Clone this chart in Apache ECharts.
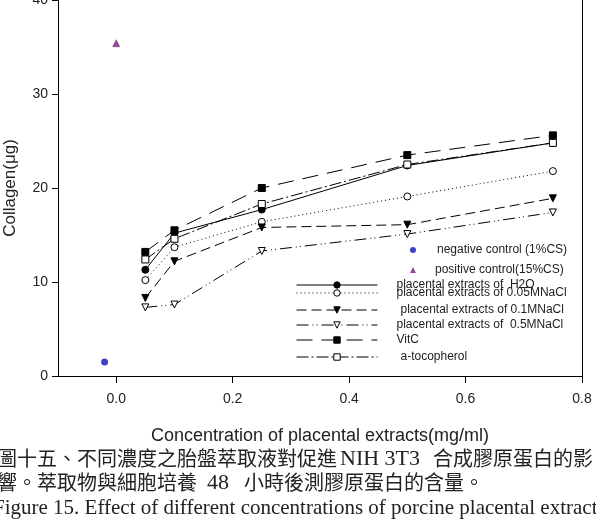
<!DOCTYPE html>
<html>
<head>
<meta charset="utf-8">
<script src="https://cdn.jsdelivr.net/npm/echarts@6/dist/echarts.min.js"></script>
<style>
  html, body { margin: 0; padding: 0; background: #fff; }
  #main { width: 596px; height: 526px; }
</style>
</head>
<body>
<div id="main"></div>
<script>
// 濃度 (mg/ml)
var conc = [0.05, 0.1, 0.25, 0.5, 0.75];
var xTicks = [0.0, 0.2, 0.4, 0.6, 0.8];
// 各組膠原蛋白含量
var h2o = [11.3, 15.2, 17.7, 22.4, 24.8];
var nacl005 = [10.2, 13.7, 16.4, 19.1, 21.8];
var nacl01 = [8.3, 12.2, 15.8, 16.1, 18.9];
var nacl05 = [7.3, 7.6, 13.3, 15.1, 17.4];
var vitC = [13.2, 15.5, 20.0, 23.5, 25.6];
var toco = [12.4, 14.6, 18.3, 22.5, 24.8];
var negCtrl = [[-0.02, 1.5]];
var posCtrl = [[0.0, 35.4]];

(function () {
  var myChart = echarts.init(document.getElementById('main'))

  function pair(ys) {
    return ys.map(function (y, i) { return [conc[i], y] })
  }

  function lineSeries(name, ys, symbol, filled, dash, rotate) {
    return {
      name: name,
      type: 'line',
      data: pair(ys),
      symbol: symbol,
      symbolRotate: rotate || 0,
      symbolSize: 7,
      lineStyle: { color: '#000', width: 1, type: dash },
      itemStyle: {
        color: filled ? '#000' : '#fff',
        borderColor: '#000',
        borderWidth: 1
      },
      z: 3
    }
  }

  var font = 'Liberation Sans, Arial, sans-serif'
  var cjk = '20px "Noto Sans CJK TC", sans-serif'
  var serif = '22px "Liberation Serif", "Times New Roman", serif'
  var names = [
    'negative control (1%CS)',
    'positive control(15%CS)',
    'placental extracts of  H2O',
    'placental extracts of 0.05MNaCl',
    'placental extracts of 0.1MNaCl',
    'placental extracts of  0.5MNaCl',
    'VitC',
    'a-tocopherol'
  ]
  // 圖例位置 (每一行一個 legend)
  var rows = [
    { left: 410, top: 244, w: 6, h: 6, pad: 16 },
    { left: 410, top: 264, w: 6, h: 6, pad: 14 },
    { left: 296, top: 279, w: 81, h: 8, pad: 14 },
    { left: 296, top: 287, w: 81, h: 8, pad: 14 },
    { left: 296, top: 304, w: 81, h: 8, pad: 18 },
    { left: 296, top: 319, w: 81, h: 8, pad: 14 },
    { left: 296, top: 334, w: 81, h: 8, pad: 14 },
    { left: 296, top: 351, w: 81, h: 8, pad: 18 }
  ]
  var legends = rows.map(function (r, i) {
    return {
      data: [names[i]],
      left: r.left,
      top: r.top,
      itemWidth: r.w,
      itemHeight: r.h,
      padding: 0,
      selectedMode: false,
      lineStyle: { width: 1 },
      itemStyle: { borderWidth: i < 2 ? 0 : 1 },
      textStyle: {
        color: '#222',
        fontSize: 12,
        fontFamily: font,
        padding: [0, 0, 0, r.pad]
      }
    }
  })

  function caption(text, x, y, f) {
    return {
      type: 'text',
      x: x,
      y: y,
      style: { text: text, font: f, fill: '#222', verticalAlign: 'middle' }
    }
  }

  var option = {
    animation: false,
    grid: {
      left: 58,
      right: 14,
      top: 0,
      bottom: 150,
      outerBoundsMode: 'none'
    },
    legend: legends,
    xAxis: {
      type: 'value',
      min: -0.1,
      max: 0.8,
      name: 'Concentration of placental extracts(mg/ml)',
      nameLocation: 'middle',
      nameGap: 51,
      nameTextStyle: { color: '#222', fontSize: 18, fontFamily: font },
      axisLine: { lineStyle: { color: '#000', width: 1 } },
      axisTick: {
        length: 7,
        customValues: xTicks,
        lineStyle: { color: '#000' }
      },
      axisLabel: {
        customValues: xTicks,
        margin: 16,
        color: '#222',
        fontSize: 14,
        fontFamily: font,
        formatter: function (v) { return v.toFixed(1) }
      },
      splitLine: { show: false }
    },
    yAxis: [{
      type: 'value',
      min: 0,
      max: 40,
      interval: 10,
      name: 'Collagen(\u03bcg)',
      nameLocation: 'middle',
      nameGap: 39,
      nameTextStyle: { color: '#222', fontSize: 17, fontFamily: font },
      axisLine: { show: true, onZero: false, lineStyle: { color: '#000', width: 1 } },
      axisTick: { show: true, length: 6, lineStyle: { color: '#000' } },
      axisLabel: { margin: 10, color: '#222', fontSize: 14, fontFamily: font },
      splitLine: { show: false }
    }, {
      // 右邊框
      type: 'value',
      position: 'right',
      min: 0,
      max: 40,
      axisLine: { show: true, onZero: false, lineStyle: { color: '#000', width: 1 } },
      axisTick: { show: false },
      axisLabel: { show: false },
      splitLine: { show: false }
    }],
    // 圖說文字
    graphic: [
      caption('圖十五、不同濃度之胎盤萃取液對促進', -3, 458, cjk),
      caption('NIH 3T3', 340, 459, serif),
      caption('合成膠原蛋白的影', 433, 458, cjk),
      caption('響。萃取物與細胞培養', -3, 482, cjk),
      caption('48', 207, 483, serif),
      caption('小時後測膠原蛋白的含量。', 244, 482, cjk),
      caption('Figure 15. Effect of different concentrations of porcine placental extracts', -7, 508,
        '21px "Liberation Serif", "Times New Roman", serif')
    ],
    series: [{
        name: names[0],
        type: 'scatter',
        data: negCtrl,
        symbol: 'circle',
        symbolSize: 7,
        itemStyle: { color: '#1010b4' }
      },
      {
        name: names[1],
        type: 'scatter',
        data: posCtrl,
        symbol: 'triangle',
        symbolSize: 7,
        itemStyle: { color: '#7a1a84', borderColor: '#3a0a40', borderWidth: 0.5 }
      },
      lineSeries(names[2], h2o, 'circle', true, 'solid'),
      lineSeries(names[3], nacl005, 'circle', false, [1, 3]),
      lineSeries(names[4], nacl01, 'triangle', true, [10, 5], 180),
      lineSeries(names[5], nacl05, 'triangle', false, [12, 4, 1, 3, 1, 4], 180),
      lineSeries(names[6], vitC, 'rect', true, [16, 9]),
      lineSeries(names[7], toco, 'rect', false, [12, 3, 2, 3])
    ]
  };
  myChart.setOption(option)
  window.addEventListener('resize', function () {
    myChart.resize();
  })
})();
</script>
</body>
</html>
